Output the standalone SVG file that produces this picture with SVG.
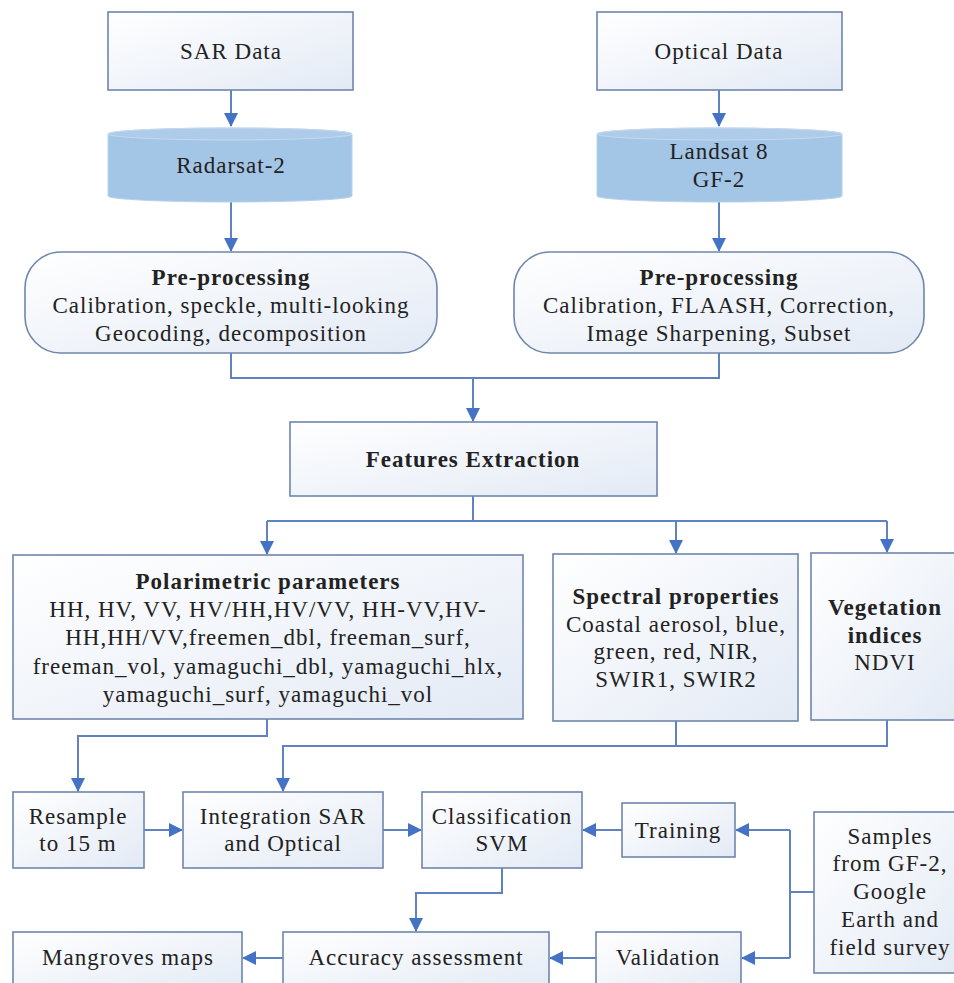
<svg xmlns="http://www.w3.org/2000/svg" width="954" height="983" viewBox="0 0 954 983">
<style>
.box{fill:url(#g);stroke:#6f86ad;stroke-width:1.6}
.cyl{fill:#a3c5e6;stroke:#b9d2ec;stroke-width:1}
.cyltop{fill:#aecbea;stroke:#c5daf0;stroke-width:1}
.t{font-family:"Liberation Serif","DejaVu Serif",serif;font-size:23px;letter-spacing:1px;fill:#222;text-anchor:middle}
.b{font-weight:bold}
.c{fill:none;stroke:#5f82c2;stroke-width:2}
</style>
<defs>
<linearGradient id="g" x1="0" y1="0" x2="1" y2="1">
<stop offset="0" stop-color="#ffffff"/>
<stop offset="1" stop-color="#e3eaf5"/>
</linearGradient>
<marker id="a" markerUnits="userSpaceOnUse" markerWidth="14" markerHeight="14" refX="13" refY="7" orient="auto">
<path d="M0,0 L14,7 L0,14 Z" fill="#4472c4"/>
</marker>
</defs>

<g id="connectors">
<path class="c" d="M231,90 V126" marker-end="url(#a)"/>
<path class="c" d="M719,90 V126" marker-end="url(#a)"/>
<path class="c" d="M231,202 V251" marker-end="url(#a)"/>
<path class="c" d="M719,202 V251" marker-end="url(#a)"/>
<path class="c" d="M231,353 V378 H719 V353"/>
<path class="c" d="M473,378 V421" marker-end="url(#a)"/>
<path class="c" d="M473,496 V521"/>
<path class="c" d="M267,521 H887"/>
<path class="c" d="M267,521 V554" marker-end="url(#a)"/>
<path class="c" d="M676,521 V553" marker-end="url(#a)"/>
<path class="c" d="M887,521 V552" marker-end="url(#a)"/>
<path class="c" d="M267,719 V736 H78 V791" marker-end="url(#a)"/>
<path class="c" d="M676,721 V746"/>
<path class="c" d="M887,720 V746 H283 V791" marker-end="url(#a)"/>
<path class="c" d="M144,830 H182" marker-end="url(#a)"/>
<path class="c" d="M383,830 H421" marker-end="url(#a)"/>
<path class="c" d="M622,830 H583" marker-end="url(#a)"/>
<path class="c" d="M814,892 H790"/>
<path class="c" d="M790,830 V958"/>
<path class="c" d="M790,830 H736" marker-end="url(#a)"/>
<path class="c" d="M790,958 H742" marker-end="url(#a)"/>
<path class="c" d="M502,868 V893 H416 V931" marker-end="url(#a)"/>
<path class="c" d="M596,958 H550" marker-end="url(#a)"/>
<path class="c" d="M283,958 H243" marker-end="url(#a)"/>
</g>

<g id="sar-data">
<rect class="box" x="108" y="12" width="245" height="78"/>
<text class="t" x="231" y="59">SAR Data</text>
</g>
<g id="optical-data">
<rect class="box" x="597" y="12" width="245" height="78"/>
<text class="t" x="719" y="59">Optical Data</text>
</g>
<g id="radarsat">
<path class="cyl" d="M108,134 A122,6 0 0 1 352,134 V196 A122,6 0 0 1 108,196 Z"/>
<ellipse class="cyltop" cx="230" cy="134" rx="122" ry="6"/>
<text class="t" x="231" y="173">Radarsat-2</text>
</g>
<g id="landsat">
<path class="cyl" d="M597,134 A122,6 0 0 1 842,134 V196 A122,6 0 0 1 597,196 Z"/>
<ellipse class="cyltop" cx="719.5" cy="134" rx="122.5" ry="6"/>
<text class="t" x="719" y="159">Landsat 8</text>
<text class="t" x="719" y="187">GF-2</text>
</g>
<g id="preproc-sar">
<rect class="box" x="25" y="252" width="412" height="101" rx="36" ry="36"/>
<text class="t b" x="231" y="285">Pre-processing</text>
<text class="t" x="231" y="313">Calibration, speckle, multi-looking</text>
<text class="t" x="231" y="341">Geocoding, decomposition</text>
</g>
<g id="preproc-opt">
<rect class="box" x="514" y="252" width="410" height="101" rx="36" ry="36"/>
<text class="t b" x="719" y="285">Pre-processing</text>
<text class="t" x="719" y="313">Calibration, FLAASH,  Correction,</text>
<text class="t" x="719" y="341">Image Sharpening, Subset</text>
</g>
<g id="features">
<rect class="box" x="290" y="422" width="367" height="74"/>
<text class="t b" x="473" y="467">Features Extraction</text>
</g>
<g id="polarimetric">
<rect class="box" x="13" y="555" width="510" height="164"/>
<text class="t b" x="268" y="589">Polarimetric parameters</text>
<text class="t" x="268" y="617">HH, HV, VV, HV/HH,HV/VV, HH-VV,HV-</text>
<text class="t" x="268" y="645">HH,HH/VV,freemen_dbl, freeman_surf,</text>
<text class="t" x="268" y="674">freeman_vol, yamaguchi_dbl, yamaguchi_hlx,</text>
<text class="t" x="268" y="702">yamaguchi_surf, yamaguchi_vol</text>
</g>
<g id="spectral">
<rect class="box" x="553" y="554" width="245" height="167"/>
<text class="t b" x="676" y="604">Spectral properties</text>
<text class="t" x="676" y="632">Coastal aerosol, blue,</text>
<text class="t" x="676" y="659">green, red, NIR,</text>
<text class="t" x="676" y="687">SWIR1, SWIR2</text>
</g>
<g id="vegetation">
<rect class="box" x="811" y="553" width="150" height="167"/>
<text class="t b" x="885" y="615">Vegetation</text>
<text class="t b" x="885" y="643">indices</text>
<text class="t" x="885" y="670">NDVI</text>
</g>
<g id="resample">
<rect class="box" x="13" y="792" width="131" height="76"/>
<text class="t" x="78" y="824">Resample</text>
<text class="t" x="78" y="851">to 15 m</text>
</g>
<g id="integration">
<rect class="box" x="183" y="792" width="200" height="76"/>
<text class="t" x="283" y="824">Integration SAR</text>
<text class="t" x="283" y="851">and Optical</text>
</g>
<g id="classification">
<rect class="box" x="422" y="792" width="160" height="76"/>
<text class="t" x="502" y="824">Classification</text>
<text class="t" x="502" y="851">SVM</text>
</g>
<g id="training">
<rect class="box" x="622" y="803" width="113" height="54"/>
<text class="t" x="678" y="838">Training</text>
</g>
<g id="samples">
<rect class="box" x="814" y="812" width="150" height="161"/>
<text class="t" x="890" y="844">Samples</text>
<text class="t" x="890" y="871">from GF-2,</text>
<text class="t" x="890" y="899">Google</text>
<text class="t" x="890" y="927">Earth and</text>
<text class="t" x="890" y="955">field survey</text>
</g>
<g id="validation">
<rect class="box" x="596" y="932" width="145" height="60"/>
<text class="t" x="668" y="965">Validation</text>
</g>
<g id="accuracy">
<rect class="box" x="283" y="932" width="266" height="60"/>
<text class="t" x="416" y="965">Accuracy assessment</text>
</g>
<g id="mangroves">
<rect class="box" x="13" y="932" width="229" height="60"/>
<text class="t" x="128" y="965">Mangroves maps</text>
</g>
</svg>
